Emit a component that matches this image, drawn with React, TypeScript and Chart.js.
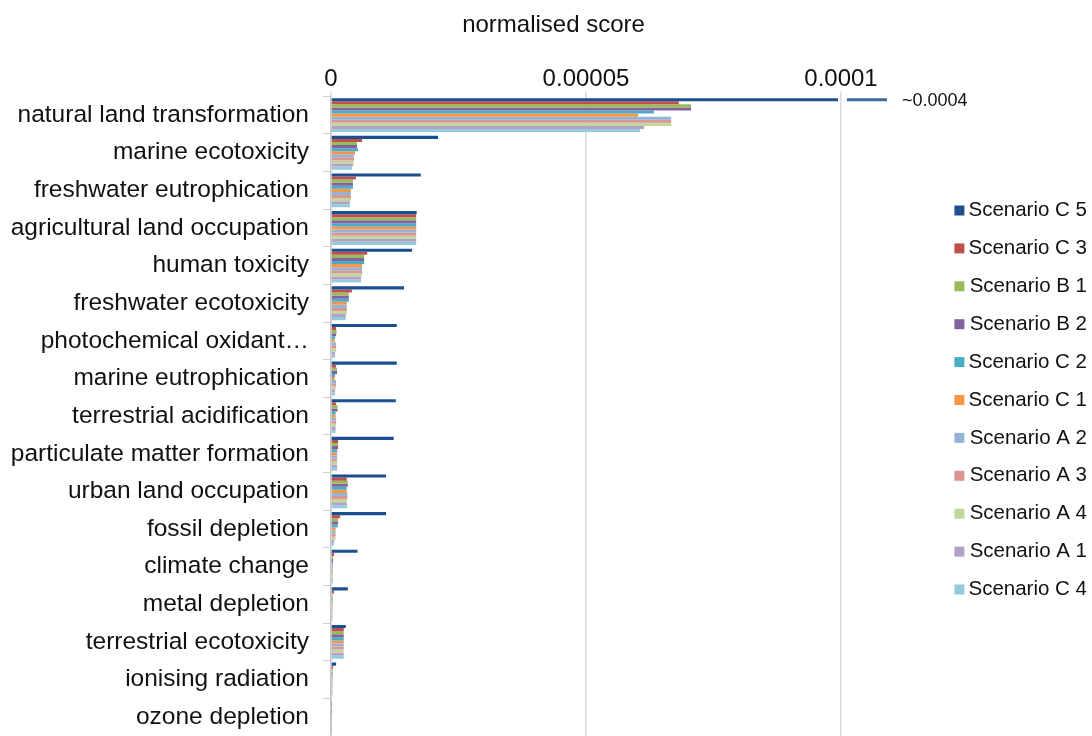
import React, { useEffect, useRef } from "react";
import { Chart, registerables } from "chart.js";

Chart.register(...registerables);

const categories = [
  "natural land transformation",
  "marine ecotoxicity",
  "freshwater eutrophication",
  "agricultural land occupation",
  "human toxicity",
  "freshwater ecotoxicity",
  "photochemical oxidant…",
  "marine eutrophication",
  "terrestrial acidification",
  "particulate matter formation",
  "urban land occupation",
  "fossil depletion",
  "climate change",
  "metal depletion",
  "terrestrial ecotoxicity",
  "ionising radiation",
  "ozone depletion",
];

const scenarioC5 = [400e-6, 21.0e-6, 17.6e-6, 16.8e-6, 15.9e-6, 14.3e-6, 12.9e-6, 12.9e-6, 12.7e-6, 12.3e-6, 10.8e-6, 10.8e-6, 5.2e-6, 3.3e-6, 2.9e-6, 1.0e-6, 0.2e-6];
const scenarioC3 = [68.2e-6, 6.1e-6, 4.9e-6, 16.7e-6, 7.1e-6, 4.1e-6, 1.0e-6, 1.0e-6, 1.0e-6, 1.4e-6, 3.1e-6, 1.8e-6, 0.6e-6, 0.6e-6, 2.5e-6, 0.4e-6, 0.05e-6];
const scenarioB1 = [70.6e-6, 5.1e-6, 4.3e-6, 16.7e-6, 6.5e-6, 3.5e-6, 1.1e-6, 1.2e-6, 1.3e-6, 1.4e-6, 3.3e-6, 1.4e-6, 0.4e-6, 0.3e-6, 2.5e-6, 0.3e-6, 0.05e-6];
const scenarioB2 = [70.6e-6, 5.1e-6, 4.3e-6, 16.7e-6, 6.5e-6, 3.5e-6, 1.0e-6, 1.2e-6, 1.3e-6, 1.4e-6, 3.3e-6, 1.4e-6, 0.4e-6, 0.3e-6, 2.5e-6, 0.3e-6, 0.05e-6];
const scenarioC2 = [63.3e-6, 5.3e-6, 4.3e-6, 16.7e-6, 6.5e-6, 3.5e-6, 0.8e-6, 0.8e-6, 0.9e-6, 1.2e-6, 3.1e-6, 1.3e-6, 0.35e-6, 0.3e-6, 2.5e-6, 0.3e-6, 0.05e-6];
const scenarioC1 = [60.2e-6, 4.7e-6, 3.9e-6, 16.7e-6, 6.1e-6, 3.1e-6, 0.7e-6, 0.7e-6, 0.9e-6, 1.2e-6, 3.1e-6, 0.9e-6, 0.35e-6, 0.3e-6, 2.5e-6, 0.3e-6, 0.05e-6];
const scenarioA2 = [66.7e-6, 4.5e-6, 3.9e-6, 16.7e-6, 6.1e-6, 3.1e-6, 1.0e-6, 1.0e-6, 1.0e-6, 1.2e-6, 3.2e-6, 0.9e-6, 0.35e-6, 0.3e-6, 2.5e-6, 0.3e-6, 0.05e-6];
const scenarioA3 = [66.7e-6, 4.5e-6, 3.9e-6, 16.7e-6, 6.1e-6, 3.1e-6, 1.0e-6, 1.0e-6, 1.0e-6, 1.2e-6, 3.2e-6, 0.9e-6, 0.35e-6, 0.3e-6, 2.5e-6, 0.3e-6, 0.05e-6];
const scenarioA4 = [66.7e-6, 4.5e-6, 3.9e-6, 16.7e-6, 6.1e-6, 3.1e-6, 1.0e-6, 1.0e-6, 1.0e-6, 1.2e-6, 3.1e-6, 0.9e-6, 0.35e-6, 0.3e-6, 2.5e-6, 0.3e-6, 0.05e-6];
const scenarioA1 = [61.4e-6, 4.3e-6, 3.7e-6, 16.7e-6, 5.9e-6, 2.9e-6, 0.8e-6, 0.8e-6, 0.9e-6, 1.2e-6, 3.1e-6, 0.6e-6, 0.35e-6, 0.3e-6, 2.5e-6, 0.3e-6, 0.05e-6];
const scenarioC4 = [60.6e-6, 4.1e-6, 3.7e-6, 16.7e-6, 5.9e-6, 2.9e-6, 0.8e-6, 0.8e-6, 0.9e-6, 1.2e-6, 3.2e-6, 0.5e-6, 0.35e-6, 0.3e-6, 2.5e-6, 0.3e-6, 0.05e-6];

const seriesNames = [
  "Scenario C 5", "Scenario C 3", "Scenario B 1", "Scenario B 2", "Scenario C 2",
  "Scenario C 1", "Scenario A 2", "Scenario A 3", "Scenario A 4", "Scenario A 1", "Scenario C 4",
];
const seriesValues = [
  scenarioC5, scenarioC3, scenarioB1, scenarioB2, scenarioC2,
  scenarioC1, scenarioA2, scenarioA3, scenarioA4, scenarioA1, scenarioC4,
];
const seriesColors = [
  "#1c4f8f", "#c0504d", "#9bbb59", "#8064a2", "#4bacc6",
  "#f79646", "#95b3d7", "#d99694", "#c3d69b", "#b3a2c7", "#93cddd",
];

const xTickValues = [0, 0.00005, 0.0001];
const xTickLabels = ["0", "0.00005", "0.0001"];
const breakLabel = "~0.0004";

const FONT = "'Liberation Sans', Arial, Helvetica, sans-serif";

const breakPlugin = {
  id: "breakMark",
  afterLayout(chart: any) {
    // let the category labels use the full left margin
    if (chart.scales.y) chart.scales.y.left = 0;
  },
  afterDatasetsDraw(chart: any) {
    const meta = chart.getDatasetMeta(0);
    const el = meta.data[0];
    if (!el) return;
    const { ctx, chartArea } = chart;
    const y = el.y;
    ctx.save();
    ctx.strokeStyle = seriesColors[0];
    ctx.globalAlpha = 0.85;
    ctx.lineWidth = 3;
    ctx.beginPath();
    ctx.moveTo(chartArea.right + 6, y);
    ctx.lineTo(chartArea.right + 46, y);
    ctx.stroke();
    ctx.globalAlpha = 1;
    ctx.fillStyle = "#111";
    ctx.font = `18px ${FONT}`;
    ctx.textAlign = "left";
    ctx.textBaseline = "middle";
    ctx.fillText(breakLabel, chartArea.right + 61, y + 1);
    ctx.restore();
  },
};

export default function App() {
  const canvasRef = useRef<HTMLCanvasElement | null>(null);

  useEffect(() => {
    if (!canvasRef.current) return;
    Chart.defaults.font.family = FONT;
    const chart = new Chart(canvasRef.current, {
      type: "bar",
      data: {
        labels: categories,
        datasets: seriesNames.map((name, i) => ({
          label: name,
          data: seriesValues[i],
          backgroundColor: seriesColors[i],
          borderWidth: 0,
          barPercentage: 1,
          categoryPercentage: 0.9,
          clip: i === 0 ? { left: 0, top: 0, right: -3, bottom: 0 } : undefined,
        })),
      },
      options: {
        indexAxis: "y",
        animation: false,
        responsive: true,
        maintainAspectRatio: false,
        layout: { padding: { left: 20, right: 5, top: 0, bottom: 0 } },
        scales: {
          x: {
            type: "linear",
            position: "top",
            min: 0,
            max: 0.0001,
            afterBuildTicks: (scale: any) => {
              scale.ticks = xTickValues.map((v) => ({ value: v }));
            },
            ticks: {
              callback: (v: any) => {
                const idx = xTickValues.findIndex((t) => Math.abs(t - Number(v)) < 1e-12);
                return idx >= 0 ? xTickLabels[idx] : "";
              },
              font: { size: 24, lineHeight: 1 },
              color: "#111",
              padding: 0,
              maxRotation: 0,
            },
            grid: { color: "#d9d9d9", lineWidth: 1.5, tickLength: 5 },
            border: { display: false },
          },
          y: {
            type: "category",
            position: "left",
            afterFit: (scale: any) => {
              scale.width = 311;
              scale.paddingTop = 0;
              scale.paddingBottom = 0;
            },
            ticks: {
              font: { size: 24.5 },
              color: "#111",
              padding: 14,
              autoSkip: false,
            },
            grid: { drawOnChartArea: false, color: "#d0d0d0", tickLength: 8, offset: true },
            border: { display: true, color: "#c6c6c6", width: 1.5 },
          },
          yr: {
            type: "linear",
            position: "right",
            display: true,
            afterFit: (scale: any) => {
              scale.width = 96;
              scale.paddingTop = 0;
              scale.paddingBottom = 0;
            },
            ticks: { display: false },
            grid: { display: false, drawTicks: false },
            border: { display: false },
          },
        },
        plugins: {
          title: {
            display: true,
            text: "normalised score",
            color: "#111",
            font: { size: 24, weight: "normal" },
            padding: { top: 11, bottom: 27.5 },
          },
          legend: {
            position: "right",
            maxWidth: 150,
            title: {
              display: true,
              text: "",
              font: { size: 10, lineHeight: 1 },
              padding: { top: 27, bottom: 27 },
            },
            labels: {
              boxWidth: 10,
              boxHeight: 10,
              padding: 17.4,
              color: "#111",
              textAlign: "right",
              font: { size: 20.5 },
            },
          },
          tooltip: { enabled: false },
        },
      },
      plugins: [breakPlugin],
    } as any);
    return () => chart.destroy();
  }, []);

  return (
    <div style={{ position: "absolute", left: 0, top: 0, width: 1092, height: 736, background: "#fff" }}>
      <canvas ref={canvasRef} />
    </div>
  );
}
